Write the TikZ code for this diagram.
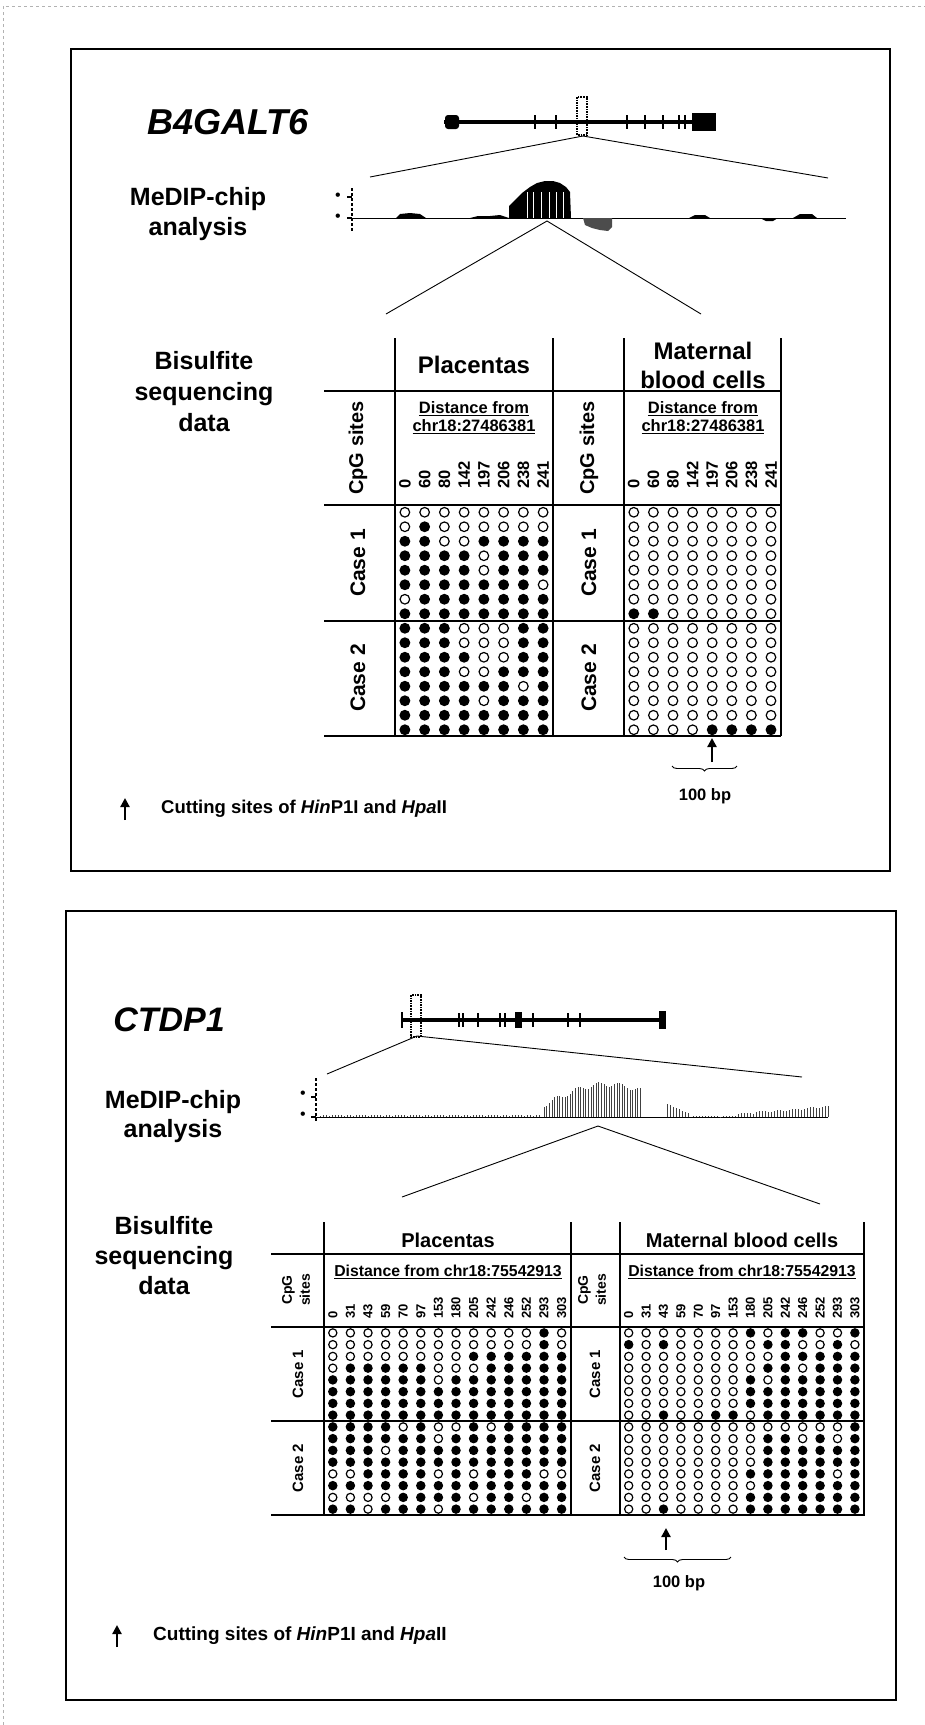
\documentclass[tikz,border=0pt]{standalone}
\usepackage{fontspec}
\setmainfont{Liberation Sans}
\usetikzlibrary{positioning}
\usetikzlibrary{arrows.meta}
\usetikzlibrary{decorations.pathreplacing}
\tikzset{
	panel/.style={draw, line width=1.4pt}, % frame round each gene
	gridline/.style={line width=1.3pt},
	zoomline/.style={line width=0.9pt},
	genebar/.style={line width=4pt},
	exon/.style={line width=2pt},
	cutarrow/.style={-{Triangle[length=9pt,width=9pt]}, line width=2.4pt},
	cpg/.style={line width=1.2pt},
	bar/.style={line width=0.6pt, black!75},
	lbl/.style={font=\bfseries, inner sep=0pt, align=center},
	num/.style={font=\bfseries, inner sep=0pt, rotate=90, anchor=west}
}
\newcommand{\fsz}[2]{\fontsize{#1}{#2}\selectfont}
% #1 left x, #2 top y, #3 column step, #4 row step, #5 radius, #6 rows (1 = methylated)
\newcommand{\cpgblock}[6]{%
	\foreach \rw [count=\rr] in {#6} {
		\foreach \v [count=\cc] in \rw {
			\ifnum\v=1 \def\dotcol{black}\else\def\dotcol{white}\fi
			\filldraw[cpg, fill=\dotcol] ({#1+#3*(\cc-0.5)},{#2+#4*(\rr-0.5)}) circle[radius=#5];
		}
	}
}

\begin{document}
\begin{tikzpicture}[x=1pt, y=-1pt]
	\useasboundingbox (0,0) rectangle (925,1725);
	\draw[gray!60, dashed, line width=0.8pt] (3,1725) -- (3,6) -- (925,6);

	% ---------------- B4GALT6 ----------------
	\draw[panel] (71,49) rectangle (890,871);
	\node (gene1) [lbl, font=\bfseries\itshape\fsz{36}{40}] at (228,122) {B4GALT6};
	\node (medip1) [lbl, font=\bfseries\fsz{25}{30}] at (198,214) {MeDIP-chip\\analysis};
	\node (bis1) [lbl, font=\bfseries\fsz{25}{31}] at (204,392) {Bisulfite\\sequencing\\data};

	% gene model
	\draw[genebar] (444,122) -- (716,122);
	\fill[rounded corners=3pt] (445,115) rectangle (459,129);
	\fill (692,113) rectangle (716,131);
	\foreach \x in {535,556,627,645,663,679,685}
		\draw[exon] (\x,115) -- (\x,129);
	\draw[densely dotted, line width=1.6pt] (577,97) rectangle (587,135);
	\coordinate (zoom1) at (583,136);
	\coordinate (prof1L) at (370,177);
	\coordinate (prof1R) at (828,178);
	\draw[zoomline] (prof1L) -- (zoom1) -- (prof1R);

	% MeDIP-chip profile
	\draw[line width=1.6pt, densely dashed] (352,188) -- (352,232);
	\draw[line width=1.2pt] (347,197) -- (352,197) (347,218) -- (352,218);
	\node (one1) [lbl, font=\fsz{16}{16}] at (338,197) {\textbullet};
	\node (zero1) [lbl, font=\fsz{16}{16}] at (338,218) {\textbullet};
	\draw[line width=0.9pt] (352,218) -- (846,218);
	\fill (396,218) -- (400,214) -- (410,213) -- (420,214) -- (426,218) -- cycle;
	\fill (470,218) -- (478,216) -- (490,216) -- (500,215) -- (509,218) -- cycle;
	\fill (509,218) -- (509,206) -- (515,200) -- (522,193) -- (530,187) -- (537,183)
		-- (545,181) -- (553,181) -- (560,183) -- (566,187) -- (570,192) -- (571,218) -- cycle;
	\foreach \x in {527,533,541,549,556,563}
		\draw[white, line width=0.5pt] (\x,192) -- (\x,218);
	\fill[black!70] (583,218) -- (585,225) -- (592,228) -- (600,230) -- (608,231) -- (612,227) -- (612,218) -- cycle;
	\fill (689,218) -- (695,215) -- (705,215) -- (710,218) -- cycle;
	\fill (760,218) -- (766,221) -- (773,221) -- (778,218) -- cycle;
	\fill (793,218) -- (800,214) -- (812,214) -- (817,218) -- cycle;
	\coordinate (peak1) at (547,221);
	\coordinate (tab1L) at (386,314);
	\coordinate (tab1R) at (701,314);
	\draw[zoomline] (tab1L) -- (peak1) -- (tab1R);

	% table
	\foreach \x in {395,553,624,781}
		\draw[gridline] (\x,338) -- (\x,736);
	\foreach \y in {391,505,621,736}
		\draw[gridline] (324,\y) -- (781,\y);
	\node (pla1) [lbl, font=\bfseries\fsz{24}{29}] at (474,365) {Placentas};
	\node (mat1) [lbl, font=\bfseries\fsz{24}{29}] at (703,365) {Maternal\\blood cells};
	\node (cpgA1) [lbl, font=\bfseries\fsz{20}{24}, rotate=90] at (358,448) {CpG sites};
	\node (cpgB1) [lbl, font=\bfseries\fsz{20}{24}, rotate=90] at (589,448) {CpG sites};
	\node (distA1) [lbl, font=\bfseries\fsz{16.5}{18}] at (474,418) {\underline{Distance from}\\\underline{chr18:27486381}};
	\node (distB1) [lbl, font=\bfseries\fsz{16.5}{18}] at (703,418) {\underline{Distance from}\\\underline{chr18:27486381}};
	\foreach \n [count=\k] in {0,60,80,142,197,206,238,241} {
		\node (posA\k) [num, font=\bfseries\fsz{16.5}{18}] at ({395+19.75*(\k-0.5)},489) {\n};
		\node (posB\k) [num, font=\bfseries\fsz{16.5}{18}] at ({624+19.6*(\k-0.5)},489) {\n};
	}
	\node (caseA1) [lbl, font=\bfseries\fsz{21}{24}, rotate=90] at (358,563) {Case 1};
	\node (caseA2) [lbl, font=\bfseries\fsz{21}{24}, rotate=90] at (358,678) {Case 2};
	\node (caseB1) [lbl, font=\bfseries\fsz{21}{24}, rotate=90] at (589,563) {Case 1};
	\node (caseB2) [lbl, font=\bfseries\fsz{21}{24}, rotate=90] at (589,678) {Case 2};

	\cpgblock{395}{505}{19.75}{14.5}{4.8pt}{
		{0,0,0,0,0,0,0,0},{0,1,0,0,0,0,0,0},{1,1,0,0,1,1,1,1},{1,1,1,1,0,1,1,1},
		{1,1,1,1,0,1,1,1},{1,1,1,1,1,1,1,0},{0,1,1,1,1,1,1,1},{1,1,1,1,1,1,1,1},
		{1,1,1,0,0,0,1,1},{1,1,1,0,0,0,1,1},{1,1,1,1,0,0,1,1},{1,1,1,0,0,1,1,1},
		{1,1,1,1,1,1,0,1},{1,1,1,1,0,1,1,1},{1,1,1,1,1,1,1,1},{1,1,1,1,1,1,1,1}}
	\cpgblock{624}{505}{19.6}{14.5}{4.8pt}{
		{0,0,0,0,0,0,0,0},{0,0,0,0,0,0,0,0},{0,0,0,0,0,0,0,0},{0,0,0,0,0,0,0,0},
		{0,0,0,0,0,0,0,0},{0,0,0,0,0,0,0,0},{0,0,0,0,0,0,0,0},{1,1,0,0,0,0,0,0},
		{0,0,0,0,0,0,0,0},{0,0,0,0,0,0,0,0},{0,0,0,0,0,0,0,0},{0,0,0,0,0,0,0,0},
		{0,0,0,0,0,0,0,0},{0,0,0,0,0,0,0,0},{0,0,0,0,0,0,0,0},{0,0,0,0,1,1,1,1}}

	% cutting site and scale
	\coordinate (cutA1) at (712,762);
	\coordinate (cutB1) at (712,738);
	\draw[cutarrow] (cutA1) -- (cutB1);
	\coordinate (braceL1) at (672,766);
	\coordinate (braceR1) at (737,766);
	\draw[line width=0.9pt, decorate, decoration={brace, mirror, amplitude=5pt}] (braceL1) -- (braceR1);
	\node (bp1) [lbl, font=\bfseries\fsz{16.5}{18}] at (705,796) {100 bp};

	% legend
	\coordinate (legA1) at (125,820);
	\coordinate (legB1) at (125,798);
	\draw[cutarrow] (legA1) -- (legB1);
	\node (leg1) [lbl, font=\bfseries\fsz{18.5}{20}, right=36pt of legA1, yshift=11pt, anchor=west] {Cutting sites of \textit{Hin}P1I and \textit{Hpa}II};

	% ---------------- CTDP1 ----------------
	\draw[panel] (66,911) rectangle (896,1700);
	\node (gene2) [lbl, font=\bfseries\itshape\fsz{34}{40}] at (169,1020) {CTDP1};
	\node (medip2) [lbl, font=\bfseries\fsz{25}{29}] at (173,1117) {MeDIP-chip\\analysis};
	\node (bis2) [lbl, font=\bfseries\fsz{25}{30}] at (164,1256) {Bisulfite\\sequencing\\data};

	% gene model
	\draw[genebar] (402,1020) -- (666,1020);
	\draw[exon] (402,1012) -- (402,1028);
	\foreach \x in {459,463,478,500,505,533,568,580}
		\draw[exon] (\x,1013) -- (\x,1027);
	\fill (515,1012) rectangle (522,1028);
	\fill (659,1011) rectangle (666,1029);
	\draw[densely dotted, line width=1.6pt] (411,995) rectangle (421,1037);
	\coordinate (zoom2) at (417,1036);
	\coordinate (prof2L) at (327,1074);
	\coordinate (prof2R) at (802,1077);
	\draw[zoomline] (prof2L) -- (zoom2) -- (prof2R);

	% MeDIP-chip profile
	\draw[line width=1.6pt, densely dashed] (316,1078) -- (316,1121);
	\draw[line width=1.2pt] (311,1097) -- (316,1097) (311,1117) -- (316,1117);
	\node (one2) [lbl, font=\fsz{16}{16}] at (303,1095) {\textbullet};
	\node (zero2) [lbl, font=\fsz{16}{16}] at (303,1116) {\textbullet};
	\draw[line width=0.8pt] (316,1117) -- (828,1117);
	\foreach \x in {320,323,...,540}
		\draw[bar] (\x,1117) -- ++(0,{-(1+1.5*abs(sin(\x*23)))});
	\foreach \x in {544,546.6,...,642}
		\draw[bar] (\x,1117) -- ++(0,{-(12+21*sin((\x-544)/98*140)+2.5*sin(\x*17))});
	\foreach \x in {667,670,...,690}
		\draw[bar] (\x,1117) -- ++(0,{-(13-(\x-667)*0.45)});
	\foreach \x in {693,696,...,735}
		\draw[bar] (\x,1117) -- ++(0,{-(0.5+abs(sin(\x*13)))});
	\foreach \x in {738,741,...,828}
		\draw[bar] (\x,1117) -- ++(0,{-(2+(\x-738)*0.08+2*abs(sin(\x*11)))});
	\coordinate (peak2) at (598,1126);
	\coordinate (tab2L) at (402,1197);
	\coordinate (tab2R) at (820,1204);
	\draw[zoomline] (tab2L) -- (peak2) -- (tab2R);

	% table
	\foreach \x in {324,571,620,864}
		\draw[gridline] (\x,1222) -- (\x,1516);
	\foreach \y in {1254,1327,1421,1515}
		\draw[gridline] (271,\y) -- (864,\y);
	\node (pla2) [lbl, font=\bfseries\fsz{20}{24}] at (448,1240) {Placentas};
	\node (mat2) [lbl, font=\bfseries\fsz{20}{24}] at (742,1240) {Maternal blood cells};
	\node (cpgA2) [lbl, font=\bfseries\fsz{14}{18}, rotate=90] at (296,1290) {CpG\\sites};
	\node (cpgB2) [lbl, font=\bfseries\fsz{14}{18}, rotate=90] at (592,1290) {CpG\\sites};
	\node (distA2) [lbl, font=\bfseries\fsz{15.8}{18}] at (448,1272) {\underline{Distance from chr18:75542913}};
	\node (distB2) [lbl, font=\bfseries\fsz{15.8}{18}] at (742,1272) {\underline{Distance from chr18:75542913}};
	\foreach \n [count=\k] in {0,31,43,59,70,97,153,180,205,242,246,252,293,303} {
		\node (siteA\k) [num, font=\bfseries\fsz{13}{15}] at ({324+17.6*(\k-0.5)},1319) {\n};
		\node (siteB\k) [num, font=\bfseries\fsz{13}{15}] at ({620+17.4*(\k-0.5)},1319) {\n};
	}
	\node (caseC1) [lbl, font=\bfseries\fsz{15}{18}, rotate=90] at (298,1374) {Case 1};
	\node (caseC2) [lbl, font=\bfseries\fsz{15}{18}, rotate=90] at (298,1468) {Case 2};
	\node (caseD1) [lbl, font=\bfseries\fsz{15}{18}, rotate=90] at (595,1374) {Case 1};
	\node (caseD2) [lbl, font=\bfseries\fsz{15}{18}, rotate=90] at (595,1468) {Case 2};

	\cpgblock{324}{1327}{17.6}{11.75}{4.1pt}{
		{0,0,0,0,0,0,0,0,0,0,0,0,1,0},{0,0,0,0,0,0,0,0,0,0,0,0,1,0},
		{0,0,0,0,0,0,0,0,1,1,1,1,1,1},{0,1,1,1,1,1,0,0,0,1,1,1,1,1},
		{1,1,1,1,1,1,0,1,1,1,1,1,1,1},{1,1,1,1,1,1,1,1,1,1,1,1,1,1},
		{1,1,1,1,1,1,1,1,1,1,1,1,1,1},{1,1,1,1,1,1,1,1,1,1,1,1,1,1},
		{1,1,1,1,0,1,0,0,1,0,1,1,1,1},{1,1,1,1,1,1,0,1,1,1,1,1,1,1},
		{1,1,1,0,1,1,1,1,1,1,1,1,1,1},{1,1,1,1,1,1,1,1,1,1,1,1,1,1},
		{0,0,1,1,1,1,0,1,0,1,1,1,0,0},{1,1,1,1,1,1,1,1,1,1,1,1,1,1},
		{0,0,0,0,1,1,1,1,0,1,1,0,1,1},{1,1,0,1,1,1,0,1,1,1,1,1,1,1}}
	\cpgblock{620}{1327}{17.4}{11.75}{4.1pt}{
		{0,0,0,0,0,0,0,1,0,1,1,0,0,1},{1,0,1,0,0,0,0,0,1,1,0,0,1,0},
		{0,0,0,0,0,0,0,0,0,1,1,1,1,1},{0,0,0,0,0,0,0,0,1,1,0,1,1,1},
		{0,0,0,0,0,0,0,1,0,1,1,1,1,1},{0,0,0,0,0,0,0,1,1,1,1,1,1,1},
		{0,0,0,0,0,0,0,1,1,1,1,1,1,1},{0,0,1,0,0,1,1,0,1,1,1,1,1,1},
		{0,0,0,0,0,0,0,0,0,0,0,0,0,1},{0,0,0,0,0,0,0,0,1,1,0,1,0,1},
		{0,0,0,0,0,0,0,0,1,1,1,1,1,1},{0,0,0,0,0,0,0,0,1,1,1,1,1,1},
		{0,0,0,0,0,0,0,1,1,1,1,1,0,1},{0,0,0,0,0,0,0,0,1,1,1,1,1,1},
		{0,0,0,0,0,0,0,1,1,1,1,1,1,1},{0,0,1,0,0,0,0,1,1,1,1,1,1,1}}

	% cutting site and scale
	\coordinate (cutA2) at (666,1550);
	\coordinate (cutB2) at (666,1528);
	\draw[cutarrow] (cutA2) -- (cutB2);
	\coordinate (braceL2) at (624,1557);
	\coordinate (braceR2) at (731,1557);
	\draw[line width=0.9pt, decorate, decoration={brace, mirror, amplitude=5pt}] (braceL2) -- (braceR2);
	\node (bp2) [lbl, font=\bfseries\fsz{16.5}{18}] at (679,1583) {100 bp};

	% legend
	\coordinate (legA2) at (117,1647);
	\coordinate (legB2) at (117,1625);
	\draw[cutarrow] (legA2) -- (legB2);
	\node (leg2) [lbl, font=\bfseries\fsz{19}{20}, right=36pt of legA2, yshift=11pt, anchor=west] {Cutting sites of \textit{Hin}P1I and \textit{Hpa}II};
\end{tikzpicture}
\end{document}
